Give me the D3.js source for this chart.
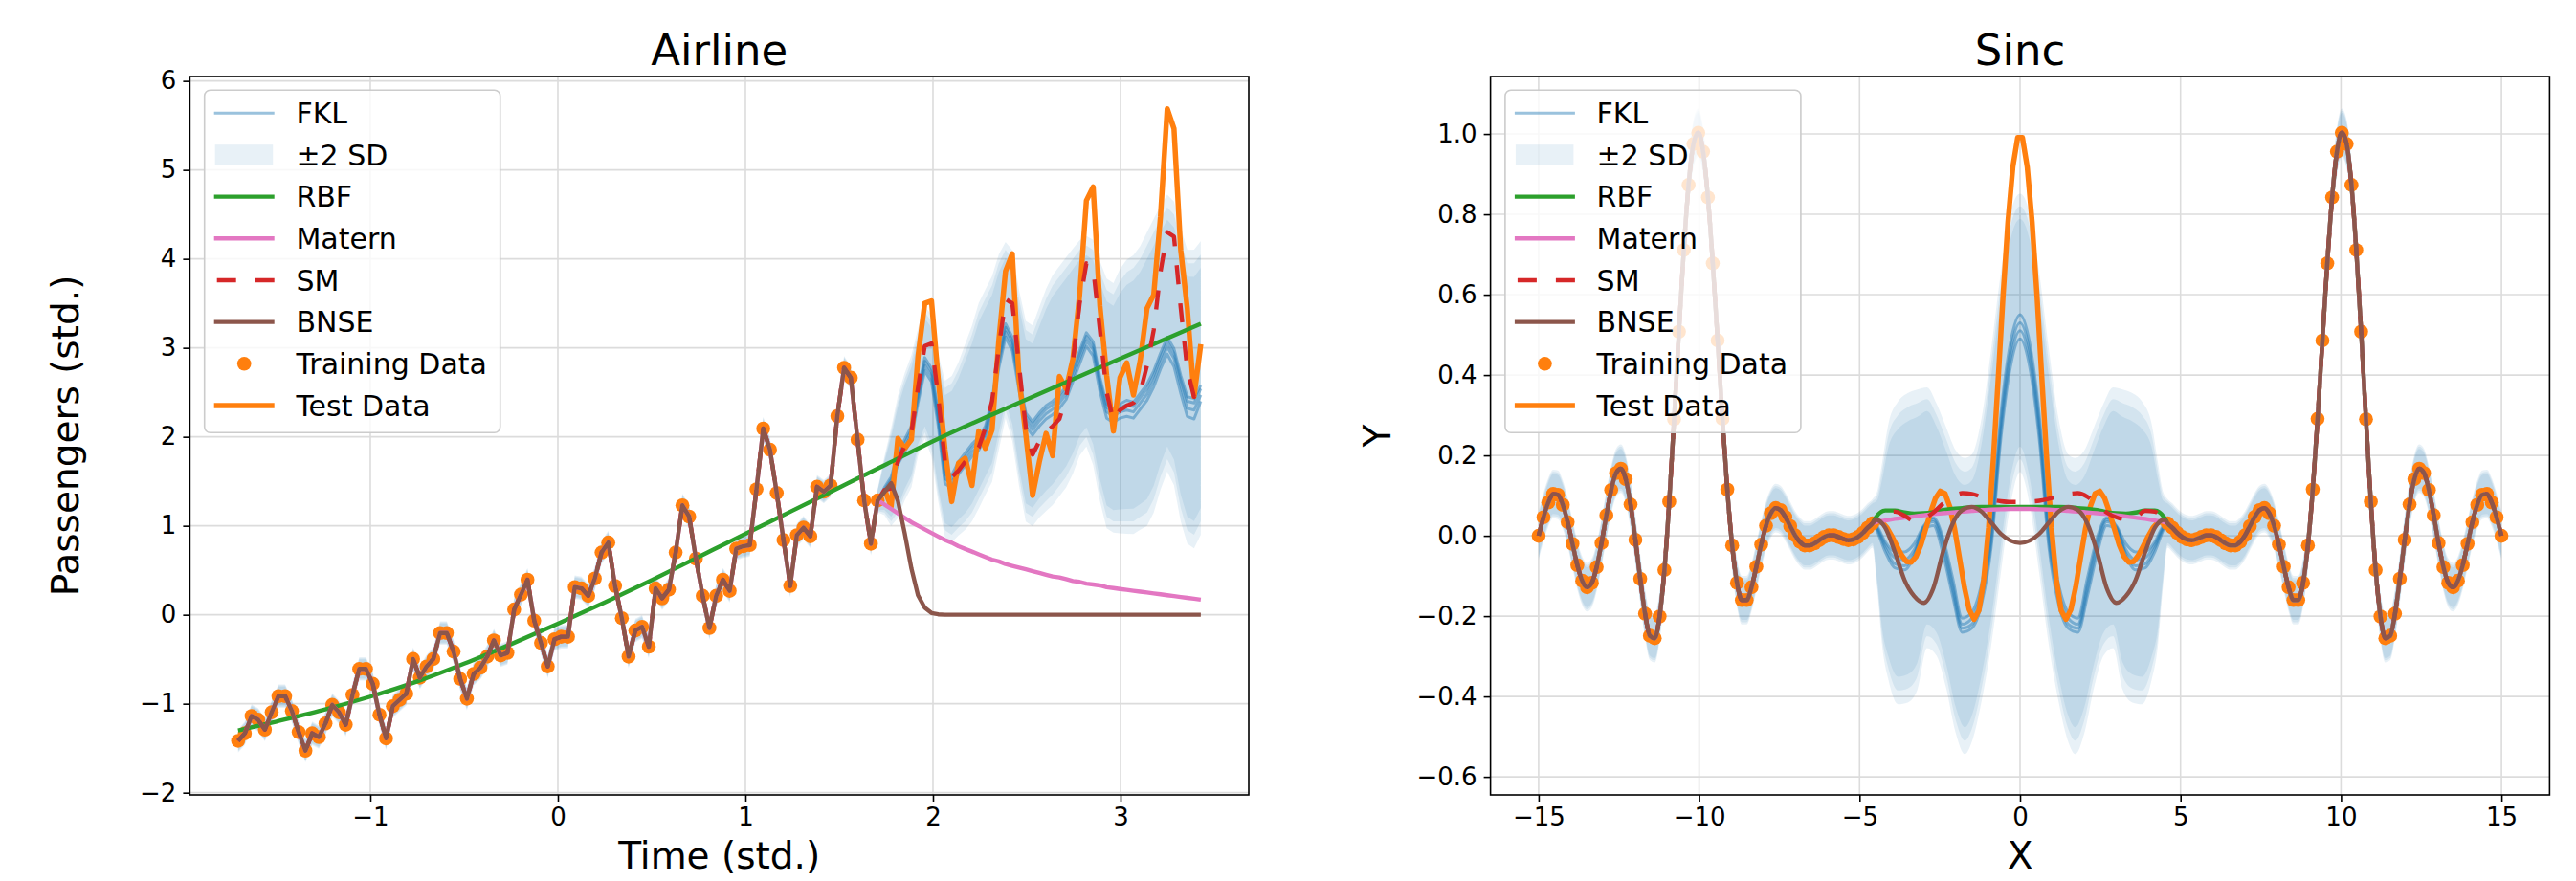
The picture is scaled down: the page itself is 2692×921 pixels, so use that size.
<!DOCTYPE html>
<html>
<head>
<meta charset="utf-8">
<script src="https://cdn.jsdelivr.net/npm/d3@7"></script>
<style>
  body { margin: 0; background: #fff; }
  svg { display: block; }
</style>
</head>
<body>
<svg id="fig" width="2692" height="921"></svg>
<script>
// ---------------- Airline (standardised time / passengers) ----------------
const airTrainX = [-1.705,-1.669,-1.633,-1.598,-1.562,-1.526,-1.490,-1.454,-1.418,-1.382,-1.346,-1.310,
  -1.274,-1.239,-1.203,-1.167,-1.131,-1.095,-1.059,-1.023,-0.987,-0.951,-0.916,-0.880,
  -0.844,-0.808,-0.772,-0.736,-0.700,-0.664,-0.628,-0.592,-0.556,-0.521,-0.485,-0.449,
  -0.413,-0.377,-0.341,-0.305,-0.269,-0.233,-0.197,-0.162,-0.126,-0.090,-0.054,-0.018,
  0.018,0.054,0.090,0.126,0.162,0.197,0.233,0.269,0.305,0.341,0.377,0.413,
  0.449,0.485,0.521,0.556,0.592,0.628,0.664,0.700,0.736,0.772,0.808,0.844,
  0.880,0.916,0.951,0.987,1.023,1.059,1.095,1.131,1.167,1.203,1.239,1.274,
  1.310,1.346,1.382,1.418,1.454,1.490,1.526,1.562,1.598,1.633,1.669,1.705];
const airTrainY = [-1.417,-1.333,-1.138,-1.180,-1.291,-1.096,-0.915,-0.915,-1.082,-1.319,-1.528,-1.333,
  -1.375,-1.222,-1.013,-1.096,-1.236,-0.901,-0.609,-0.609,-0.776,-1.124,-1.389,-1.027,
  -0.957,-0.887,-0.497,-0.706,-0.581,-0.497,-0.205,-0.205,-0.414,-0.720,-0.943,-0.665,
  -0.595,-0.470,-0.288,-0.456,-0.428,0.060,0.227,0.394,-0.066,-0.316,-0.581,-0.275,
  -0.247,-0.247,0.311,0.297,0.213,0.408,0.700,0.812,0.324,-0.038,-0.470,-0.177,
  -0.135,-0.358,0.297,0.185,0.283,0.700,1.230,1.104,0.631,0.213,-0.149,0.213,
  0.394,0.269,0.742,0.770,0.784,1.411,2.093,1.856,1.369,0.840,0.324,0.895,
  0.979,0.882,1.439,1.383,1.453,2.233,2.776,2.664,1.968,1.285,0.798,1.285];
const airTestX = [1.741,1.777,1.813,1.849,1.885,1.920,1.956,1.992,2.028,2.064,2.100,2.136,
  2.172,2.208,2.244,2.279,2.315,2.351,2.387,2.423,2.459,2.495,2.531,2.567,
  2.603,2.638,2.674,2.710,2.746,2.782,2.818,2.854,2.890,2.926,2.962,2.997,
  3.033,3.069,3.105,3.141,3.177,3.213,3.249,3.285,3.321,3.356,3.392,3.428];
const airTestY = [1.411,1.216,1.982,1.870,1.968,2.901,3.500,3.528,2.650,1.856,1.272,1.703,
  1.759,1.453,2.065,1.870,2.079,3.082,3.862,4.057,2.650,2.024,1.341,1.717,
  2.038,1.787,2.678,2.539,2.873,3.597,4.656,4.809,3.472,2.692,2.065,2.664,
  2.831,2.469,2.859,3.444,3.597,4.475,5.687,5.464,4.099,3.444,2.455,3.040];

// RBF fit (smooth trend)
const airRbfX = [-1.705,-1.5,-1.25,-1.0,-0.75,-0.5,-0.25,0,0.25,0.5,0.75,1.0,1.25,1.5,1.75,2.0,2.5,3.0,3.428];
const airRbfY = [-1.30,-1.20,-1.07,-0.92,-0.75,-0.55,-0.33,-0.10,0.14,0.39,0.65,0.91,1.17,1.43,1.69,1.95,2.42,2.88,3.27];

// Extrapolations over the test months
const airMaternExt = [1.24,1.19,1.14,1.09,1.04,1.00,0.96,0.92,0.88,0.84,0.81,0.77,
  0.74,0.71,0.68,0.65,0.62,0.60,0.57,0.55,0.53,0.51,0.49,0.47,
  0.45,0.43,0.42,0.40,0.38,0.37,0.35,0.34,0.33,0.31,0.30,0.29,
  0.28,0.27,0.26,0.25,0.24,0.23,0.22,0.21,0.20,0.19,0.18,0.17];
const airSmExt = [1.40,1.42,1.72,1.90,2.05,2.55,3.02,3.05,2.45,1.72,1.55,1.62,
  1.72,1.80,1.88,2.10,2.40,3.00,3.55,3.50,2.80,2.10,1.80,1.95,
  2.05,2.12,2.20,2.45,2.85,3.50,3.95,3.90,3.20,2.50,2.18,2.30,
  2.35,2.38,2.50,2.80,3.20,3.85,4.30,4.25,3.45,2.75,2.45,2.55];
const airBnseExt = [1.38,1.48,1.28,0.92,0.52,0.22,0.08,0.02,0.005,0,0,0,
  0,0,0,0,0,0,0,0,0,0,0,0,
  0,0,0,0,0,0,0,0,0,0,0,0,
  0,0,0,0,0,0,0,0,0,0,0,0];
const airFklA = [1.37,1.45,1.69,1.83,1.98,2.38,2.74,2.62,2.12,1.47,1.43,1.58,
  1.68,1.78,1.85,1.98,2.28,2.77,3.12,2.97,2.52,2.12,2.02,2.12,
  2.20,2.25,2.32,2.42,2.62,2.82,3.02,2.91,2.51,2.21,2.16,2.21,
  2.23,2.21,2.31,2.41,2.56,2.76,2.93,2.79,2.49,2.23,2.20,2.40];
const airFklB = [1.39,1.48,1.73,1.88,2.03,2.43,2.80,2.68,2.18,1.53,1.48,1.63,
  1.73,1.83,1.90,2.03,2.33,2.83,3.18,3.03,2.58,2.18,2.08,2.18,
  2.26,2.31,2.38,2.48,2.68,2.88,3.08,2.98,2.58,2.28,2.23,2.28,
  2.30,2.28,2.38,2.48,2.63,2.83,3.01,2.88,2.58,2.32,2.30,2.47];
const airFklC = [1.41,1.52,1.78,1.93,2.08,2.48,2.85,2.73,2.23,1.58,1.53,1.68,
  1.78,1.88,1.95,2.08,2.38,2.88,3.23,3.08,2.63,2.23,2.13,2.23,
  2.31,2.36,2.43,2.53,2.73,2.93,3.13,3.03,2.63,2.33,2.28,2.33,
  2.36,2.34,2.44,2.54,2.69,2.89,3.07,2.94,2.64,2.40,2.38,2.54];
const airFklD = [1.43,1.55,1.82,1.97,2.12,2.52,2.89,2.77,2.27,1.62,1.57,1.72,
  1.82,1.92,1.99,2.12,2.42,2.92,3.27,3.12,2.67,2.27,2.17,2.27,
  2.35,2.40,2.47,2.57,2.77,2.97,3.17,3.07,2.67,2.37,2.32,2.37,
  2.41,2.39,2.49,2.59,2.74,2.94,3.12,2.99,2.69,2.45,2.43,2.58];
const airBandLo = [1.15,1.05,1.15,1.35,1.50,1.85,2.05,1.85,1.35,0.95,0.90,0.98,
  1.05,1.15,1.30,1.45,1.60,1.95,2.30,2.05,1.55,1.15,1.10,1.20,
  1.28,1.35,1.45,1.55,1.70,1.90,2.00,1.80,1.40,1.10,1.05,1.05,
  1.05,1.05,1.10,1.15,1.30,1.55,1.75,1.60,1.20,0.95,0.90,1.05];
const airBandUp = [1.75,2.05,2.40,2.65,2.85,3.15,3.40,3.30,2.85,2.55,2.60,2.75,
  2.95,3.15,3.40,3.55,3.70,3.95,4.10,4.00,3.55,3.20,3.15,3.35,
  3.55,3.70,3.80,3.90,4.00,4.10,4.15,4.10,3.85,3.65,3.60,3.75,
  3.85,3.90,4.00,4.15,4.30,4.45,4.58,4.50,4.20,3.95,3.95,4.05];
const airTrainBandHalf = 0.12;

const airXTicks = [-1, 0, 1, 2, 3];
const airYTicks = [-2, -1, 0, 1, 2, 3, 4, 5, 6];

// ---------------- Sinc ----------------
const sincTrainLeftX = [-15.000,-14.849,-14.698,-14.548,-14.397,-14.246,-14.095,-13.945,-13.794,-13.643,
  -13.492,-13.342,-13.191,-13.040,-12.889,-12.739,-12.588,-12.437,-12.286,-12.136,
  -11.985,-11.834,-11.683,-11.533,-11.382,-11.231,-11.080,-10.930,-10.779,-10.628,
  -10.477,-10.327,-10.176,-10.025,-9.874,-9.724,-9.573,-9.422,-9.271,-9.121,
  -8.970,-8.819,-8.668,-8.518,-8.367,-8.216,-8.065,-7.915,-7.764,-7.613,
  -7.462,-7.312,-7.161,-7.010,-6.859,-6.709,-6.558,-6.407,-6.256,-6.106,
  -5.955,-5.804,-5.653,-5.503,-5.352,-5.201,-5.050,-4.899,-4.749,-4.598];
const sincTrainLeftY = [0.000,0.046,0.083,0.104,0.102,0.077,0.034,-0.020,-0.073,-0.112,
  -0.128,-0.117,-0.078,-0.018,0.051,0.114,0.156,0.167,0.141,0.078,
  -0.010,-0.107,-0.194,-0.249,-0.255,-0.201,-0.085,0.085,0.290,0.508,
  0.711,0.873,0.975,1.003,0.956,0.842,0.678,0.486,0.291,0.115,
  -0.024,-0.117,-0.160,-0.160,-0.128,-0.077,-0.022,0.025,0.056,0.069,
  0.064,0.047,0.024,0.001,-0.015,-0.024,-0.024,-0.019,-0.011,-0.003,
  0.001,0.001,-0.003,-0.008,-0.011,-0.009,-0.003,0.007,0.020,0.031];
const sincTrainRightX = [4.598,4.749,4.899,5.050,5.201,5.352,5.503,5.653,5.804,5.955,
  6.106,6.256,6.407,6.558,6.709,6.859,7.010,7.161,7.312,7.462,
  7.613,7.764,7.915,8.065,8.216,8.367,8.518,8.668,8.819,8.970,
  9.121,9.271,9.422,9.573,9.724,9.874,10.025,10.176,10.327,10.477,
  10.628,10.779,10.930,11.080,11.231,11.382,11.533,11.683,11.834,11.985,
  12.136,12.286,12.437,12.588,12.739,12.889,13.040,13.191,13.342,13.492,
  13.643,13.794,13.945,14.095,14.246,14.397,14.548,14.698,14.849,15.000];
const sincTrainRightY = [0.031,0.020,0.007,-0.003,-0.009,-0.011,-0.008,-0.003,0.001,0.001,
  -0.003,-0.011,-0.019,-0.024,-0.024,-0.015,0.001,0.024,0.047,0.064,
  0.069,0.056,0.025,-0.022,-0.077,-0.128,-0.160,-0.160,-0.117,-0.024,
  0.115,0.291,0.486,0.678,0.842,0.956,1.003,0.975,0.873,0.711,
  0.508,0.290,0.085,-0.085,-0.201,-0.255,-0.249,-0.194,-0.107,-0.010,
  0.078,0.141,0.167,0.156,0.114,0.051,-0.018,-0.078,-0.117,-0.128,
  -0.112,-0.073,-0.020,0.034,0.077,0.102,0.104,0.083,0.046,0.000];
const sincTestX = [-4.447,-4.296,-4.146,-3.995,-3.844,-3.693,-3.543,-3.392,-3.241,-3.090,
  -2.940,-2.789,-2.638,-2.487,-2.337,-2.186,-2.035,-1.884,-1.734,-1.583,
  -1.432,-1.281,-1.131,-0.980,-0.829,-0.678,-0.528,-0.377,-0.226,-0.075,
  0.075,0.226,0.377,0.528,0.678,0.829,0.980,1.131,1.281,1.432,
  1.583,1.734,1.884,2.035,2.186,2.337,2.487,2.638,2.789,2.940,
  3.090,3.241,3.392,3.543,3.693,3.844,3.995,4.146,4.296,4.447];
const sincTestY = [0.036,0.033,0.020,-0.001,-0.025,-0.048,-0.064,-0.066,-0.052,-0.023,
  0.017,0.058,0.093,0.111,0.105,0.072,0.016,-0.056,-0.128,-0.184,
  -0.208,-0.186,-0.109,0.020,0.194,0.394,0.598,0.780,0.917,0.991,
  0.991,0.917,0.780,0.598,0.394,0.194,0.020,-0.109,-0.186,-0.208,
  -0.184,-0.128,-0.056,0.016,0.072,0.105,0.111,0.093,0.058,0.017,
  -0.023,-0.052,-0.066,-0.064,-0.048,-0.025,-0.001,0.020,0.033,0.036];

// model predictions inside the gap (-4.5 .. 4.5)
const sincMidX = [-4.5,-4.2,-3.9,-3.6,-3.3,-3.0,-2.7,-2.4,-2.1,-1.8,-1.5,-1.2,-0.9,-0.6,-0.3,0,
  0.3,0.6,0.9,1.2,1.5,1.8,2.1,2.4,2.7,3.0,3.3,3.6,3.9,4.2,4.5];
const sincRbfMid = [0.045,0.063,0.063,0.058,0.055,0.056,0.059,0.064,0.067,0.069,0.071,0.072,0.072,0.072,0.072,0.072,
  0.072,0.072,0.072,0.072,0.071,0.069,0.067,0.064,0.059,0.056,0.055,0.058,0.063,0.063,0.045];
const sincMaternMid = [0.034,0.038,0.042,0.045,0.048,0.051,0.054,0.056,0.058,0.060,0.062,0.064,0.065,0.066,0.067,0.067,
  0.067,0.066,0.065,0.064,0.062,0.060,0.058,0.056,0.054,0.051,0.048,0.045,0.042,0.038,0.034];
const sincSmMid = [0.040,0.060,0.060,0.050,0.037,0.043,0.058,0.080,0.097,0.106,0.104,0.097,0.090,0.086,0.084,0.084,
  0.085,0.087,0.092,0.098,0.104,0.106,0.097,0.078,0.058,0.046,0.040,0.045,0.062,0.060,0.040];
const sincBnseMid = [0.040,0.020,-0.040,-0.110,-0.150,-0.167,-0.130,-0.040,0.030,0.064,0.072,0.060,0.033,0.005,-0.012,-0.018,
  -0.012,0.005,0.033,0.060,0.072,0.064,0.030,-0.040,-0.130,-0.167,-0.150,-0.110,-0.040,0.020,0.040];
const sincFkl1 = [0.02,-0.04,-0.08,-0.085,-0.05,0.015,0.025,-0.045,-0.15,-0.24,-0.23,-0.17,-0.03,0.24,0.42,0.49,
  0.42,0.24,-0.03,-0.17,-0.23,-0.24,-0.15,-0.045,0.025,0.015,-0.05,-0.085,-0.08,-0.04,0.02];
const sincFkl2 = [0.023,-0.03,-0.07,-0.075,-0.045,0.02,0.035,-0.03,-0.135,-0.23,-0.22,-0.155,-0.015,0.26,0.44,0.51,
  0.44,0.26,-0.015,-0.155,-0.22,-0.23,-0.135,-0.03,0.035,0.02,-0.045,-0.075,-0.07,-0.03,0.023];
const sincFkl3 = [0.025,-0.022,-0.055,-0.06,-0.035,0.022,0.04,-0.015,-0.12,-0.22,-0.205,-0.14,0.0,0.28,0.46,0.53,
  0.46,0.28,0.0,-0.14,-0.205,-0.22,-0.12,-0.015,0.04,0.022,-0.035,-0.06,-0.055,-0.022,0.025];
const sincFkl4 = [0.028,-0.015,-0.04,-0.04,-0.02,0.025,0.045,-0.005,-0.105,-0.205,-0.19,-0.12,0.02,0.30,0.48,0.55,
  0.48,0.30,0.02,-0.12,-0.19,-0.205,-0.105,-0.005,0.045,0.025,-0.02,-0.04,-0.04,-0.015,0.028];
const sincBandMidX = [-4.45,-4.3,-4.1,-3.8,-3.5,-3.2,-2.9,-2.6,-2.3,-2.0,-1.72,-1.5,-1.2,-0.9,-0.6,-0.3,0,
  0.3,0.6,0.9,1.2,1.5,1.72,2.0,2.3,2.6,2.9,3.2,3.5,3.8,4.1,4.3,4.45];
const sincBandMidLo = [-0.12,-0.25,-0.33,-0.385,-0.38,-0.35,-0.25,-0.27,-0.35,-0.46,-0.51,-0.48,-0.38,-0.24,-0.06,0.11,0.19,
  0.11,-0.06,-0.24,-0.38,-0.48,-0.51,-0.46,-0.35,-0.27,-0.25,-0.35,-0.38,-0.385,-0.33,-0.25,-0.12];
const sincBandMidUp = [0.10,0.16,0.25,0.30,0.32,0.33,0.34,0.30,0.24,0.18,0.16,0.17,0.26,0.43,0.62,0.77,0.82,
  0.77,0.62,0.43,0.26,0.17,0.16,0.18,0.24,0.30,0.34,0.33,0.32,0.30,0.25,0.16,0.10];
const sincTrainBandHalf = 0.055;

const sincXTicks = [-15, -10, -5, 0, 5, 10, 15];
const sincYTicks = [-0.6, -0.4, -0.2, 0.0, 0.2, 0.4, 0.6, 0.8, 1.0];

const legendLabels = ["FKL", "\u00b12 SD", "RBF", "Matern", "SM", "BNSE", "Training Data", "Test Data"];

// ---------------- drawing ----------------
const C = { blue: "#1f77b4", orange: "#ff7f0e", green: "#2ca02c", red: "#d62728", pink: "#e377c2", brown: "#8c564b" };
const FONT = "DejaVu Sans, sans-serif";
const AX_TOP = 80, AX_BOTTOM = 831;
const bandLayers = [0.9, 1.0, 1.1];

const svg = d3.select("#fig");
svg.append("rect").attr("width", 2692).attr("height", 921).attr("fill", "#fff");
const defs = svg.append("defs");

const zip = (xs, ys) => xs.map((v, i) => [v, ys[i]]);

function makePanel(cfg) {
  const x = d3.scaleLinear().domain(cfg.xDomain).range([cfg.left, cfg.right]);
  const y = d3.scaleLinear().domain(cfg.yDomain).range([AX_BOTTOM, AX_TOP]);
  const root = svg.append("g");
  defs.append("clipPath").attr("id", cfg.id).append("rect")
    .attr("x", cfg.left).attr("y", AX_TOP)
    .attr("width", cfg.right - cfg.left).attr("height", AX_BOTTOM - AX_TOP);
  const grid = root.append("g").attr("stroke", "#dcdcdc").attr("stroke-width", 1.6);
  cfg.xTicks.forEach(t => grid.append("line").attr("x1", x(t)).attr("x2", x(t)).attr("y1", AX_TOP).attr("y2", AX_BOTTOM));
  cfg.yTicks.forEach(t => grid.append("line").attr("x1", cfg.left).attr("x2", cfg.right).attr("y1", y(t)).attr("y2", y(t)));
  const plot = root.append("g").attr("clip-path", `url(#${cfg.id})`);
  return { x, y, root, plot, cfg };
}

function styleAxis(g) {
  g.attr("font-family", FONT).attr("font-size", 26);
  g.select(".domain").remove();
  g.selectAll(".tick line").attr("stroke", "#000").attr("stroke-width", 1.6);
  g.selectAll(".tick text").attr("fill", "#000");
}

function finishPanel(p) {
  const { x, y, root, cfg } = p;
  root.append("g").attr("transform", `translate(0,${AX_BOTTOM})`)
    .call(d3.axisBottom(x).tickValues(cfg.xTicks).tickFormat(cfg.xFmt).tickSize(7).tickPadding(7).tickSizeOuter(0))
    .call(styleAxis);
  root.append("g").attr("transform", `translate(${cfg.left},0)`)
    .call(d3.axisLeft(y).tickValues(cfg.yTicks).tickFormat(cfg.yFmt).tickSize(7).tickPadding(7).tickSizeOuter(0))
    .call(styleAxis);
  root.append("rect").attr("x", cfg.left).attr("y", AX_TOP)
    .attr("width", cfg.right - cfg.left).attr("height", AX_BOTTOM - AX_TOP)
    .attr("fill", "none").attr("stroke", "#000").attr("stroke-width", 1.6);
  const cx = (cfg.left + cfg.right) / 2;
  root.append("text").attr("x", cx).attr("y", 68).attr("text-anchor", "middle")
    .attr("font-family", FONT).attr("font-size", 45).text(cfg.title);
  root.append("text").attr("x", cx).attr("y", 908).attr("text-anchor", "middle")
    .attr("font-family", FONT).attr("font-size", 39).text(cfg.xLabel);
  root.append("text").attr("transform", `translate(${cfg.yLabelX},${(AX_TOP + AX_BOTTOM) / 2}) rotate(-90)`)
    .attr("text-anchor", "middle").attr("font-family", FONT).attr("font-size", 39).text(cfg.yLabel);
  drawLegend(root, cfg.left + 15.3, 94.3);
}

function drawBand(p, pts, curve) {
  bandLayers.forEach(k => {
    const area = d3.area()
      .x(d => p.x(d.x))
      .y0(d => p.y((d.lo + d.up) / 2 - k * (d.up - d.lo) / 2))
      .y1(d => p.y((d.lo + d.up) / 2 + k * (d.up - d.lo) / 2))
      .curve(curve);
    p.plot.append("path").attr("d", area(pts)).attr("fill", C.blue).attr("fill-opacity", 0.1);
  });
}

function drawLine(p, pts, style, curve) {
  const line = d3.line().x(d => p.x(d[0])).y(d => p.y(d[1])).curve(curve || d3.curveLinear);
  const path = p.plot.append("path").attr("d", line(pts))
    .attr("fill", "none").attr("stroke", style.color).attr("stroke-width", style.width)
    .attr("stroke-linejoin", "round").attr("stroke-linecap", "butt");
  if (style.opacity != null) path.attr("stroke-opacity", style.opacity);
  if (style.dash) path.attr("stroke-dasharray", style.dash);
}

function drawDots(p, xs, ys) {
  p.plot.append("g").attr("fill", C.orange).selectAll("circle")
    .data(zip(xs, ys)).join("circle")
    .attr("cx", d => p.x(d[0])).attr("cy", d => p.y(d[1])).attr("r", 7.3);
}

const STY = {
  fkl: { color: C.blue, width: 3, opacity: 0.45 },
  rbf: { color: C.green, width: 4.4 },
  matern: { color: C.pink, width: 4.4 },
  sm: { color: C.red, width: 4.4, dash: "20,20" },
  bnse: { color: C.brown, width: 4.4 },
  test: { color: C.orange, width: 5.5 }
};

function drawLegend(g, lx, ly) {
  const lg = g.append("g");
  lg.append("rect").attr("x", lx).attr("y", ly).attr("width", 309).attr("height", 358).attr("rx", 6)
    .attr("fill", "#fff").attr("fill-opacity", 0.8).attr("stroke", "#cccccc").attr("stroke-width", 1.6);
  const kinds = ["fkl", "band", "rbf", "matern", "sm", "bnse", "dot", "test"];
  kinds.forEach((k, i) => {
    const cy = ly + 24 + i * 43.67;
    if (k === "band") {
      lg.append("rect").attr("x", lx + 11).attr("y", cy - 10.8).attr("width", 60.5).attr("height", 21.7)
        .attr("fill", C.blue).attr("fill-opacity", 0.1);
    } else if (k === "dot") {
      lg.append("circle").attr("cx", lx + 41.5).attr("cy", cy).attr("r", 7.3).attr("fill", C.orange);
    } else {
      const s = STY[k];
      const ln = lg.append("line").attr("x1", lx + 10).attr("x2", lx + 73).attr("y1", cy).attr("y2", cy)
        .attr("stroke", s.color).attr("stroke-width", s.width);
      if (s.opacity != null) ln.attr("stroke-opacity", s.opacity);
      if (s.dash) ln.attr("stroke-dasharray", s.dash).attr("stroke-dashoffset", -3);
    }
    lg.append("text").attr("x", lx + 95.7).attr("y", cy + 10.8)
      .attr("font-family", FONT).attr("font-size", 30).text(legendLabels[i]);
  });
}

const fmtInt = d3.format("d");
const fmt1 = d3.format(".1f");

// ---- Airline panel ----
const air = makePanel({
  id: "clipAir", left: 198.4, right: 1305, xDomain: [-1.9622, 3.6837], yDomain: [-2.025, 6.05],
  xTicks: airXTicks, yTicks: airYTicks, xFmt: fmtInt, yFmt: fmtInt,
  title: "Airline", xLabel: "Time (std.)", yLabel: "Passengers (std.)", yLabelX: 82
});
{
  const fitX = airTrainX.concat(airTestX);
  const bandPts = airTrainX.map((v, i) => ({ x: v, lo: airTrainY[i] - airTrainBandHalf, up: airTrainY[i] + airTrainBandHalf }))
    .concat(airTestX.map((v, i) => ({ x: v, lo: airBandLo[i], up: airBandUp[i] })));
  drawBand(air, bandPts, d3.curveLinear);
  [airFklA, airFklB, airFklC, airFklD].forEach(s => drawLine(air, zip(fitX, airTrainY.concat(s)), STY.fkl));
  drawLine(air, zip(airTestX, airTestY), STY.test);
  drawDots(air, airTrainX, airTrainY);
  drawLine(air, zip(airRbfX, airRbfY), STY.rbf, d3.curveMonotoneX);
  drawLine(air, zip(fitX, airTrainY.concat(airMaternExt)), STY.matern);
  drawLine(air, zip(fitX, airTrainY.concat(airSmExt)), STY.sm);
  drawLine(air, zip(fitX, airTrainY.concat(airBnseExt)), STY.bnse);
}
finishPanel(air);

// ---- Sinc panel ----
const sinc = makePanel({
  id: "clipSinc", left: 1557.6, right: 2664.4, xDomain: [-16.5, 16.5], yDomain: [-0.645, 1.143],
  xTicks: sincXTicks, yTicks: sincYTicks, xFmt: fmtInt, yFmt: fmt1,
  title: "Sinc", xLabel: "X", yLabel: "Y", yLabelX: 1453
});
{
  const fitX = sincTrainLeftX.concat(sincMidX, sincTrainRightX);
  const withMid = mid => zip(fitX, sincTrainLeftY.concat(mid, sincTrainRightY));
  const trainBand = (xs, ys) => xs.map((v, i) => ({ x: v, lo: ys[i] - sincTrainBandHalf, up: ys[i] + sincTrainBandHalf }));
  const bandPts = trainBand(sincTrainLeftX, sincTrainLeftY)
    .concat(sincBandMidX.map((v, i) => ({ x: v, lo: sincBandMidLo[i], up: sincBandMidUp[i] })))
    .concat(trainBand(sincTrainRightX, sincTrainRightY));
  drawBand(sinc, bandPts, d3.curveMonotoneX);
  [sincFkl1, sincFkl2, sincFkl3, sincFkl4].forEach(s => drawLine(sinc, withMid(s), STY.fkl, d3.curveMonotoneX));
  drawLine(sinc, zip(sincTestX, sincTestY), STY.test);
  drawDots(sinc, sincTrainLeftX.concat(sincTrainRightX), sincTrainLeftY.concat(sincTrainRightY));
  drawLine(sinc, withMid(sincRbfMid), STY.rbf, d3.curveMonotoneX);
  drawLine(sinc, withMid(sincMaternMid), STY.matern, d3.curveMonotoneX);
  drawLine(sinc, withMid(sincSmMid), STY.sm, d3.curveMonotoneX);
  drawLine(sinc, withMid(sincBnseMid), STY.bnse, d3.curveMonotoneX);
}
finishPanel(sinc);
</script>
</body>
</html>
